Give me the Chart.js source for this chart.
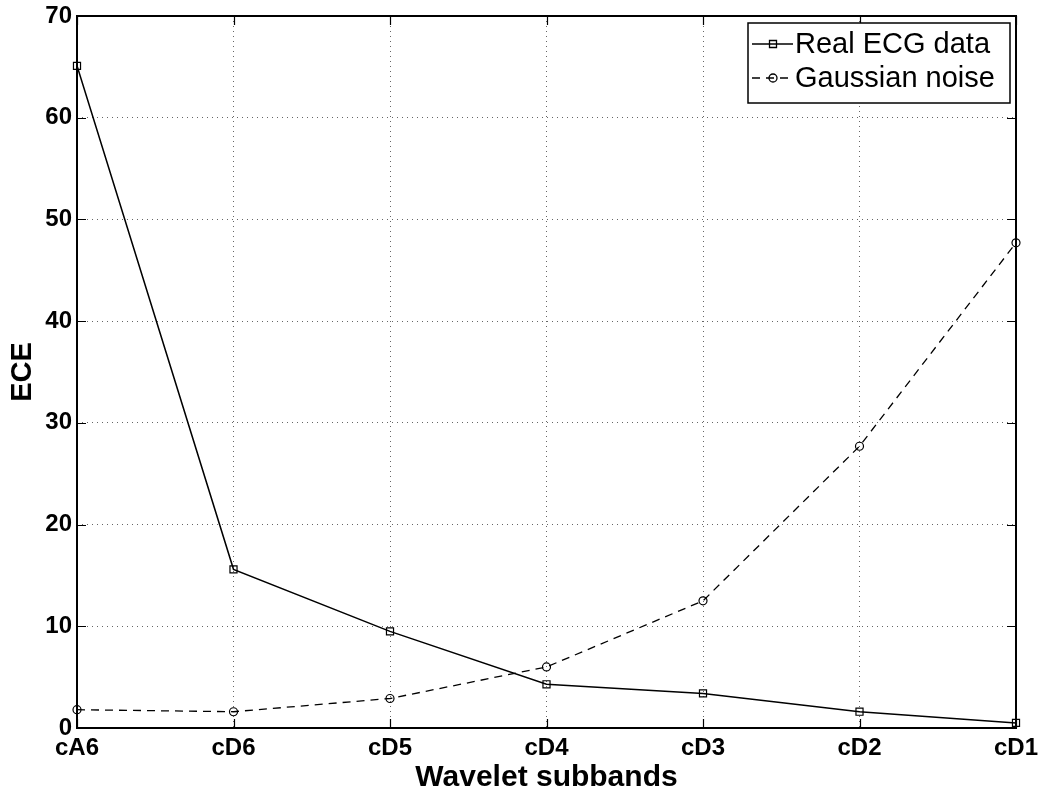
<!DOCTYPE html>
<html>
<head>
<meta charset="utf-8">
<script src="https://cdn.jsdelivr.net/npm/chart.js@4.4.1/dist/chart.umd.min.js"></script>
<style>
  html, body { margin: 0; padding: 0; background: #fff; }
  #wrap { width: 1040px; height: 795px; }
</style>
</head>
<body>
<div id="wrap"><canvas id="eceChart" width="1040" height="795"></canvas></div>
<script>
// ECE per wavelet subband
const subbands = ['cA6', 'cD6', 'cD5', 'cD4', 'cD3', 'cD2', 'cD1'];
const realEcg = [65.1, 15.6, 9.5, 4.3, 3.4, 1.6, 0.5];
const gaussianNoise = [1.8, 1.6, 2.9, 6.0, 12.5, 27.7, 47.7];
const yTicks = [0, 10, 20, 30, 40, 50, 60, 70];

const fontFamily = '"Liberation Sans", Arial, Helvetica, sans-serif';

// Axes box with inward tick marks on all four sides, plus the legend box
const boxPlugin = {
    id: 'boxAndLegend',
    afterDatasetsDraw(chart) {
        const { ctx, chartArea: a, scales: { x, y } } = chart;
        const tickLen = 9;
        ctx.save();
        ctx.strokeStyle = '#000';
        ctx.lineWidth = 1.2;
        ctx.beginPath();
        subbands.forEach((_, i) => {
            const px = Math.round(x.getPixelForValue(i)) + 0.5;
            ctx.moveTo(px, a.bottom); ctx.lineTo(px, a.bottom - tickLen);
            ctx.moveTo(px, a.top); ctx.lineTo(px, a.top + tickLen);
        });
        yTicks.forEach(v => {
            const py = Math.round(y.getPixelForValue(v)) + 0.5;
            ctx.moveTo(a.left, py); ctx.lineTo(a.left + tickLen, py);
            ctx.moveTo(a.right, py); ctx.lineTo(a.right - tickLen, py);
        });
        ctx.stroke();

        ctx.lineWidth = 2;
        ctx.strokeRect(a.left, a.top, a.right - a.left, a.bottom - a.top);

        // legend
        const lx = 748, ly = 23, lw = 262, lh = 80;
        ctx.fillStyle = '#fff';
        ctx.fillRect(lx, ly, lw, lh);
        ctx.lineWidth = 1.5;
        ctx.strokeRect(lx, ly, lw, lh);

        const rows = [44, 78];
        chart.data.datasets.forEach((ds, i) => {
            const ry = rows[i];
            ctx.strokeStyle = '#000';
            ctx.lineWidth = 1.3;
            ctx.setLineDash(ds.borderDash || []);
            ctx.beginPath();
            ctx.moveTo(752, ry); ctx.lineTo(793, ry);
            ctx.stroke();
            ctx.setLineDash([]);
            ctx.fillStyle = '#fff';
            ctx.beginPath();
            if (ds.pointStyle === 'rect') {
                ctx.rect(773 - 3.5, ry - 3.5, 7, 7);
            } else {
                ctx.arc(773, ry, 4, 0, Math.PI * 2);
            }
            ctx.stroke();

            ctx.fillStyle = '#000';
            ctx.font = '29px ' + fontFamily;
            ctx.textBaseline = 'middle';
            ctx.textAlign = 'left';
            ctx.fillText(ds.label, 795, ry + 1);
        });
        ctx.restore();
    }
};

new Chart(document.getElementById('eceChart').getContext('2d'), {
    type: 'line',
    data: {
        labels: subbands,
        datasets: [
            {
                label: 'Real ECG data',
                data: realEcg,
                borderColor: '#000',
                borderWidth: 1.5,
                pointStyle: 'rect',
                pointRadius: 5,
                pointBorderWidth: 1.2,
                pointBorderColor: '#000',
                pointBackgroundColor: 'rgba(0,0,0,0)',
                tension: 0
            },
            {
                label: 'Gaussian noise',
                data: gaussianNoise,
                borderColor: '#000',
                borderWidth: 1.3,
                borderDash: [8, 6],
                pointStyle: 'circle',
                pointRadius: 4,
                pointBorderWidth: 1.2,
                pointBorderColor: '#000',
                pointBackgroundColor: 'rgba(0,0,0,0)',
                tension: 0
            }
        ]
    },
    options: {
        responsive: false,
        animation: false,
        layout: { padding: { top: 16, right: 24, left: 0, bottom: 0 } },
        plugins: {
            legend: { display: false },
            tooltip: { enabled: false }
        },
        scales: {
            x: {
                type: 'category',
                offset: false,
                afterFit(scale) {
                    scale.height = 67;
                    scale.paddingLeft = 0;
                    scale.paddingRight = 0;
                },
                grid: { color: '#666', lineWidth: 1, drawTicks: false },
                border: { display: false, dash: [1, 4] },
                ticks: {
                    color: '#000',
                    padding: 6,
                    maxRotation: 0,
                    font: { family: fontFamily, size: 24, weight: 'bold' }
                },
                title: {
                    display: true,
                    text: 'Wavelet subbands',
                    color: '#000',
                    padding: { top: 0, bottom: 0 },
                    font: { family: fontFamily, size: 30, weight: 'bold', lineHeight: 1.15 }
                }
            },
            y: {
                min: 0,
                max: 70,
                afterFit(scale) {
                    scale.width = 77;
                    scale.paddingTop = 0;
                    scale.paddingBottom = 0;
                },
                afterBuildTicks(scale) { scale.ticks = yTicks.map(v => ({ value: v })); },
                grid: { color: '#666', lineWidth: 1, drawTicks: false },
                border: { display: false, dash: [1, 4] },
                ticks: {
                    color: '#000',
                    padding: 5,
                    font: { family: fontFamily, size: 24, weight: 'bold' }
                },
                title: {
                    display: true,
                    text: 'ECE',
                    color: '#000',
                    padding: { top: 6, bottom: 0 },
                    font: { family: fontFamily, size: 29, weight: 'bold', lineHeight: 1.2 }
                }
            }
        }
    },
    plugins: [boxPlugin]
});
</script>
</body>
</html>
